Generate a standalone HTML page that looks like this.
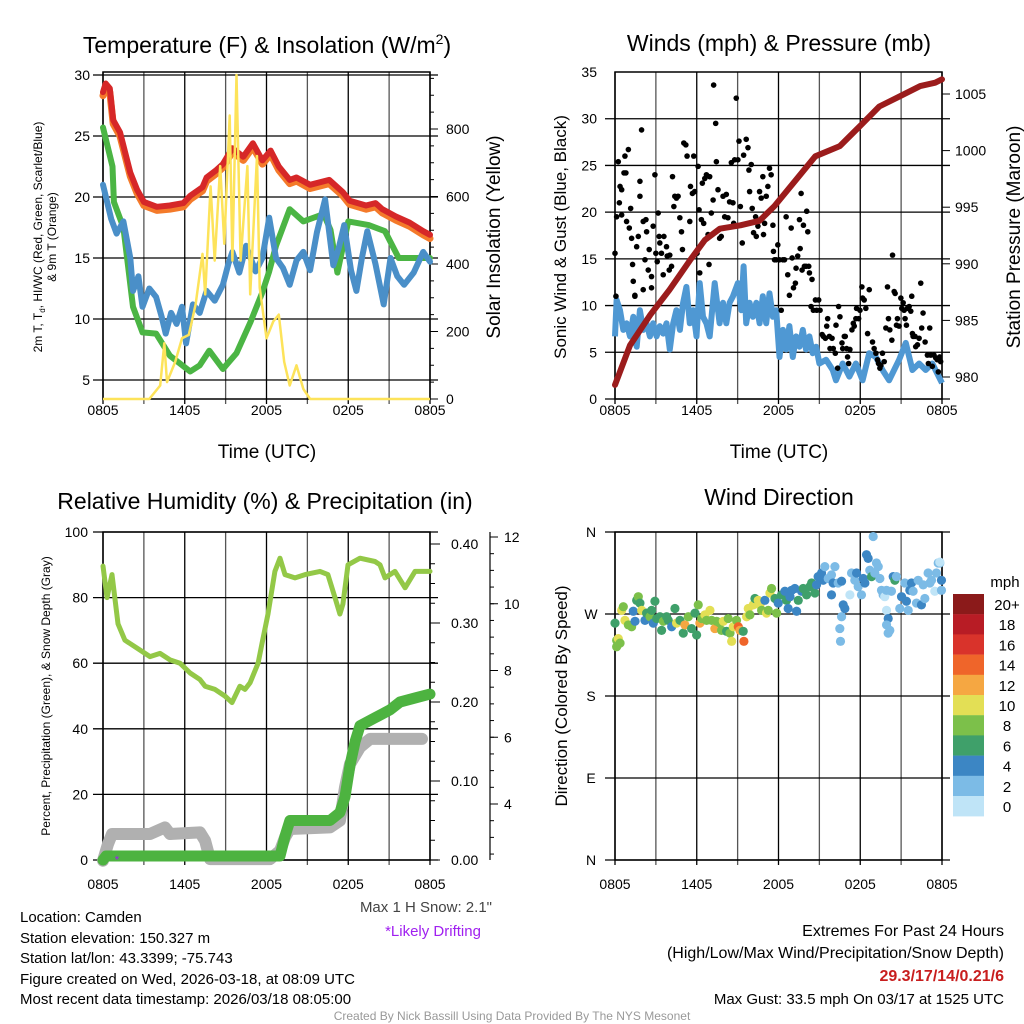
<!DOCTYPE html>
<html><head><meta charset="utf-8"><style>
html,body{margin:0;padding:0;background:#fff;}
svg{display:block;font-family:"Liberation Sans",sans-serif;}
</style></head><body>
<svg id="chart" width="1024" height="1024" viewBox="0 0 1024 1024" xmlns="http://www.w3.org/2000/svg">
<rect x="0" y="0" width="1024" height="1024" fill="#fff"/>
<text x="267" y="53" font-size="23" text-anchor="middle">Temperature (F) &amp; Insolation (W/m<tspan font-size="14" dy="-9">2</tspan><tspan dy="9">)</tspan></text>
<text x="779" y="51" font-size="23" text-anchor="middle">Winds (mph) &amp; Pressure (mb)</text>
<text x="265" y="509" font-size="23" text-anchor="middle">Relative Humidity (%) &amp; Precipitation (in)</text>
<text x="779" y="505" font-size="23" text-anchor="middle">Wind Direction</text>

<text transform="translate(42,237) rotate(-90)" font-size="12" text-anchor="middle">2m T, T<tspan font-size="8" dy="3">d</tspan><tspan dy="-3">, HI/WC (Red, Green, Scarlet/Blue)</tspan></text>
<text transform="translate(56,237) rotate(-90)" font-size="12" text-anchor="middle">&amp; 9m T (Orange)</text>
<text transform="translate(500,237) rotate(-90)" font-size="19" text-anchor="middle">Solar Insolation (Yellow)</text>
<text x="267" y="458" font-size="19" text-anchor="middle">Time (UTC)</text>
<text transform="translate(566,237) rotate(-90)" font-size="17" text-anchor="middle">Sonic Wind &amp; Gust (Blue, Black)</text>
<text transform="translate(1020,237) rotate(-90)" font-size="19" text-anchor="middle">Station Pressure (Maroon)</text>
<text x="779" y="458" font-size="19" text-anchor="middle">Time (UTC)</text>
<text transform="translate(50,696) rotate(-90)" font-size="12" text-anchor="middle">Percent, Precipitation (Green), &amp; Snow Depth (Gray)</text>
<text transform="translate(567,696) rotate(-90)" font-size="17" text-anchor="middle">Direction (Colored By Speed)</text>

<text x="492" y="912" font-size="15" text-anchor="end" fill="#444">Max 1 H Snow: 2.1"</text>
<text x="433" y="936" font-size="15" text-anchor="middle" fill="#a020f0">*Likely Drifting</text>
<g font-size="15">
<text x="20" y="922">Location: Camden</text>
<text x="20" y="943">Station elevation: 150.327 m</text>
<text x="20" y="963">Station lat/lon: 43.3399; -75.743</text>
<text x="20" y="984">Figure created on Wed, 2026-03-18, at 08:09 UTC</text>
<text x="20" y="1004">Most recent data timestamp: 2026/03/18 08:05:00</text>
</g>
<g font-size="16" text-anchor="end">
<text x="1004" y="936">Extremes For Past 24 Hours</text>
<text x="1004" y="958">(High/Low/Max Wind/Precipitation/Snow Depth)</text>
<text x="1004" y="981" fill="#c81e1e" font-weight="bold">29.3/17/14/0.21/6</text>
<text x="1004" y="1004" font-size="15">Max Gust: 33.5 mph On 03/17 at 1525 UTC</text>
</g>
<text x="512" y="1020" font-size="12" text-anchor="middle" fill="#999">Created By Nick Bassill Using Data Provided By The NYS Mesonet</text>
<g id="layer"></g>
</svg>
<script>
// ---------- data ----------
const timeTickLabels=["0805","1405","2005","0205","0805"];
const timeTickHours=[0,6,12,18,24];
// Panel 1
const tempT=[0,0.2,0.5,0.75,1.25,2,2.5,3,3.95,4.9,5.9,6.4,7.3,7.6,8.3,8.8,9.5,10.3,11,11.7,12.3,12.9,13.7,14.2,15.2,16.6,17.6,18.1,19.3,20,20.5,21.5,22.5,23.5,24];
const tempRed=[28.6,29.3,28.9,26.3,25.3,22,20.6,19.6,19.2,19.3,19.5,20.1,20.8,21.6,22.2,22.7,24,23.3,24.4,23,23.8,22.5,21.4,21.6,21,21.4,20.4,19.7,19.3,19.5,19,18.4,17.9,17.2,16.9];
const temp9m=[28.3,29.0,28.6,26.0,25.0,21.7,20.3,19.3,18.9,19.0,19.2,19.8,20.5,21.3,21.9,22.4,23.7,23.0,24.1,22.7,23.5,22.2,21.1,21.3,20.7,21.1,20.1,19.4,19.0,19.2,18.7,18.1,17.6,16.9,16.6];
const dewT=[0,0.7,0.8,1.5,2.2,2.9,3.9,4.9,6.4,7.1,7.8,8.8,9.8,10.8,11.7,12.2,12.7,13.7,14.7,16.2,16.7,17.2,18,19.5,20.7,21.7,24];
const dewV=[25.7,22.5,19.6,17.5,11,8.9,8.8,7,5.7,6.2,7.4,5.9,7.2,9.7,12.2,13.9,16,19,18,18.6,17.3,13.8,18,17.7,17.2,15,15];
const wcT=[0,0.3,0.6,1,1.5,2,2.2,2.6,2.9,3.4,3.9,4.3,4.6,5,5.4,5.8,6.1,6.6,7.1,7.6,8.2,8.8,9.2,9.5,10,10.5,11.2,11.7,12.2,12.7,13.2,13.7,14.2,14.7,15.2,15.7,16.3,16.9,17.3,17.7,18.2,18.6,19,19.4,20,20.6,21.1,21.6,22.1,22.8,23.5,24];
const wcV=[21,19.6,18.2,17,18,15,12.3,13.5,11,12.5,11.8,10.2,8.8,10.5,9.6,11,8,11.2,10.5,12.3,11.5,12.8,14.5,15.5,13.8,16,13.9,15,18.3,15,14.2,12.8,14.8,15.5,14,17.1,19.8,14.4,15.8,17.7,14,12.3,15,17.2,14.5,11.2,15,13.5,12.8,13.8,15.5,14.7];
const solT=[0,3.4,4.2,4.5,4.7,5.3,5.8,6.3,6.8,7.3,7.5,7.9,8.2,8.6,8.9,9.3,9.5,9.8,10.1,10.6,10.8,11.3,11.5,12,12.5,12.9,13.3,13.7,14.2,14.7,15.2,24];
const solV=[0,0,40,165,50,110,180,190,280,430,310,630,410,690,460,840,410,960,410,690,310,720,330,180,230,250,110,40,100,30,0,0];
// Panel 2
const presT=[0,1.1,2.6,4.0,5.5,6.6,7.7,9.2,10.6,11.7,13.2,14.7,16.5,18.0,19.4,20.9,22.4,23.5,24];
const presV=[979.3,982.8,985.5,987.7,990.3,992.1,993.1,993.4,993.8,995.1,997.3,999.5,1000.4,1002.2,1003.9,1004.8,1005.7,1006.0,1006.3];
const windT=[0,0.12,0.37,0.61,0.85,1.1,1.34,1.59,1.83,2.07,2.32,2.56,2.8,3.05,3.29,3.54,3.78,4.02,4.27,4.51,4.76,5.0,5.24,5.49,5.73,5.98,6.22,6.46,6.71,6.95,7.32,7.68,7.93,8.17,8.41,8.66,9.02,9.27,9.44,9.63,9.88,10.12,10.37,10.61,10.85,11.1,11.34,11.59,11.83,12.07,12.32,12.56,12.8,13.05,13.29,13.54,13.78,14.02,14.27,14.51,14.76,15.0,15.49,15.98,16.22,16.71,17.2,17.68,18.17,18.66,19.15,19.63,20.12,20.85,21.34,21.83,22.32,22.8,23.29,24];
const windV=[6.7,10.6,9.5,7.4,8.1,6.7,8.8,5.6,9.5,7.4,8.1,6.7,8.1,6.7,7.8,7.0,8.1,5.3,8.1,9.5,7.4,10.3,12.0,8.1,9.5,6.7,12.4,8.8,8.1,6.7,12.4,8.1,10.3,8.1,10.3,11.0,12.4,9.5,14.2,8.1,10.3,8.8,10.3,8.1,11.0,8.1,11.3,8.8,9.5,4.5,7.4,5.3,7.8,4.5,6.7,5.6,7.4,5.3,6.7,4.9,5.6,3.8,4.2,3.1,2.0,3.8,2.4,3.8,2.0,4.9,4.5,3.1,2.0,4.2,6.0,3.1,3.8,3.1,3.8,1.7];
const gustT=[0,0.07,0.12,0.24,0.32,0.37,0.49,0.49,0.66,0.73,
0.8,0.85,0.98,1.05,1.15,1.22,1.29,1.34,1.46,1.46,
1.59,1.71,1.83,1.83,1.95,2.07,2.07,2.2,2.27,2.32,
2.44,2.51,2.68,2.68,2.8,2.93,3.0,3.1,3.17,3.24,
3.29,3.41,3.54,3.59,3.78,3.83,3.98,4.02,4.15,4.22,
4.32,4.39,4.51,4.63,4.76,4.88,4.95,5.05,5.2,5.29,
5.49,5.54,5.68,5.78,5.85,6.02,6.1,6.17,6.22,6.34,
6.41,6.51,6.59,6.71,6.83,6.9,6.95,7.07,7.2,7.24,
7.39,7.44,7.56,7.68,7.8,7.93,8.05,8.17,8.29,8.41,
8.54,8.66,8.71,8.78,8.9,9.02,9.1,9.2,9.34,9.44,
9.63,9.76,9.83,9.88,10.0,10.07,10.17,10.32,10.37,10.49,
10.61,10.73,10.85,10.9,10.98,11.1,11.22,11.34,11.46,11.59,
11.63,11.71,11.83,11.95,12.07,12.2,12.32,12.44,12.56,12.68,
12.8,12.93,13.0,13.1,13.24,13.29,13.41,13.54,13.59,13.66,
13.73,13.83,13.9,14.02,14.07,14.15,14.22,14.27,14.39,14.46,
14.56,14.71,14.8,14.95,15.05,15.2,15.29,15.44,15.54,15.61,
15.73,15.78,15.93,16.02,16.17,16.22,16.34,16.41,16.51,16.66,
16.71,16.83,16.9,17.0,17.07,17.15,17.24,17.39,17.49,17.56,
17.68,17.73,17.88,17.98,18.12,18.17,18.29,18.41,18.54,18.66,
18.9,19.02,19.15,19.27,19.34,19.44,19.51,19.63,19.76,19.88,
20.0,20.07,20.17,20.32,20.37,20.49,20.56,20.66,20.73,20.85,
20.98,21.05,21.15,21.22,21.29,21.39,21.46,21.59,21.71,21.78,
21.83,21.88,22.02,22.07,22.2,22.32,22.44,22.51,22.61,22.76,
22.93,23.0,23.1,23.17,23.29,23.41,23.54,23.66,23.73,23.83,
23.9];
const gustV=[15.6,11.0,19.5,25.4,21.0,22.75,22.4,19.7,24.2,26.0,
24.2,19.0,26.7,18.3,20.4,17.2,14.4,12.6,11.0,11.1,
16.3,17.4,21.7,23.3,28.8,19.0,11.7,14.9,19.2,17.9,
13.8,16.0,13.1,11.9,18.5,24.0,15.6,14.7,19.9,17.4,
16.7,15.6,13.3,17.4,16.3,15.3,13.8,15.4,14.2,23.8,
20.6,21.7,21.5,21.7,19.4,17.9,16.0,27.4,27.2,26.0,
19.0,22.75,22.0,26.0,22.2,15.6,24.9,20.25,13.5,19.2,
23.1,18.8,23.6,24.0,17.6,14.4,23.8,19.9,21.3,33.6,
29.5,25.4,22.4,17.2,17.4,21.7,19.5,21.9,19.4,21.1,
25.3,21.0,18.8,25.6,32.2,25.6,27.6,20.6,16.7,26.1,
27.8,26.9,24.5,22.2,25.1,20.4,17.8,19.5,17.4,18.5,
22.2,21.5,23.8,17.6,18.8,21.7,22.75,24.7,24.0,18.6,
15.8,14.9,14.9,16.5,14.9,9.5,14.9,14.9,19.5,13.3,
11.1,18.3,15.1,11.9,12.4,14.0,15.3,19.2,16.1,22.0,
13.8,18.6,14.2,14.2,20.1,17.9,14.2,13.5,9.9,12.8,
9.5,10.6,9.5,10.6,9.5,6.9,6.7,6.5,7.8,8.6,
6.7,5.4,6.5,5.4,4.9,7.9,3.3,9.9,8.8,6.0,
5.4,6.7,6.7,5.4,4.5,3.8,5.3,7.4,8.1,7.8,
8.6,9.7,8.6,9.5,12.0,10.8,10.6,9.7,7.0,11.7,
6.1,5.4,4.9,4.2,3.8,3.3,3.6,4.9,4.0,7.6,
12.0,8.6,7.4,6.3,15.4,11.5,11.3,7.9,8.6,7.8,
10.8,9.7,10.3,9.5,8.6,7.9,9.7,9.9,9.4,11.0,
7.0,6.7,6.7,5.6,5.8,6.5,12.4,7.6,9.2,6.1,
4.7,3.8,7.6,4.7,3.5,4.7,4.4,4.2,2.9,4.5,
4.0];
// Panel 3
const rhT=[0,0.29,0.66,1.1,1.61,2.72,3.45,4.18,4.92,5.65,6.39,7.12,7.49,8.22,8.95,9.47,10.05,10.42,10.79,11.38,11.67,12.11,12.62,12.99,13.36,14.09,14.83,15.93,16.51,17.03,17.39,17.61,17.98,18.86,19.96,20.33,20.7,21.43,22.17,22.9,24];
const rhV=[89.6,80,87,72,67,64,62,63,61,60,57,55,53,52,50,48,53,52,54,60,66,75,88,92,87,86,87,88,87,80,75,78,90,92,91,90,86,88,83,88,88];
const precipT=[0,0.22,12.99,13.36,13.72,16.66,17.39,17.76,18.13,18.5,18.86,19.96,21.06,21.8,22.9,24];
const precipV=[0,0.005,0.005,0.03,0.05,0.05,0.06,0.08,0.12,0.15,0.17,0.18,0.19,0.2,0.205,0.21];
const snowT=[0,0.37,0.66,3.45,4.55,4.92,7.12,7.49,7.85,12.26,12.99,13.36,13.72,16.66,17.39,17.76,18.13,18.86,19.6,23.41];
const snowV=[2.3,2.8,3.1,3.1,3.3,3.1,3.15,2.9,2.35,2.35,2.6,3.0,3.25,3.3,3.5,4.5,5.2,5.7,5.95,5.95];
// Panel 4
const dirT=[0,0.12,0.24,0.12,0.37,0.49,0.61,0.73,0.98,1.22,
1.47,1.34,1.59,1.71,1.83,1.96,2.2,2.32,2.57,2.69,
2.81,2.93,3.06,3.3,3.42,3.55,3.79,3.91,4.16,4.4,
4.52,4.77,5.01,5.13,5.38,5.62,5.87,5.99,6.11,6.23,
6.36,6.6,6.72,6.97,7.09,7.33,7.46,7.7,7.82,7.95,
8.19,8.31,8.44,8.56,8.68,8.92,9.05,9.17,9.41,9.46,
9.66,9.78,9.9,10.15,10.27,10.51,10.64,10.76,11.0,11.12,
11.25,11.37,11.49,11.74,11.86,11.98,12.22,12.47,12.59,12.71,
12.84,12.96,13.2,13.33,13.45,13.69,13.81,14.06,14.3,14.43,
14.67,14.79,14.91,15.16,15.28,15.4,15.65,15.89,16.01,16.14,
15.89,16.38,16.63,16.75,16.63,16.5,16.55,16.87,17.24,17.36,
17.6,17.73,17.85,18.09,18.22,18.34,18.46,18.58,18.7,18.83,
18.95,19.07,19.19,19.32,19.44,19.56,19.68,19.8,19.93,19.93,
20.05,20.17,19.93,20.05,20.29,20.42,20.54,20.66,20.9,21.03,
21.27,21.39,21.52,21.64,21.76,21.88,22.13,22.25,22.49,22.62,
22.74,22.98,23.11,23.23,23.47,23.59,23.72,23.84,23.96,23.96,
23.84];
const dirV=[260,241,243,234,238,274,278,263,258,256,
262,273,285,289,282,274,263,271,267,274,
260,284,265,267,252,262,267,263,256,276,
260,263,249,258,267,254,271,247,280,260,
265,269,263,274,263,254,262,260,252,262,
251,265,249,240,256,263,256,252,251,240,
267,276,269,280,287,285,280,274,285,271,
274,293,298,287,271,282,291,295,285,276,
289,296,298,273,285,295,298,291,300,304,
293,302,311,315,307,322,309,313,304,322,
291,304,306,280,267,254,240,276,291,315,
307,315,300,291,309,304,335,331,318,311,
355,315,326,322,309,296,291,289,296,274,
265,252,258,249,295,311,307,311,276,289,
304,284,274,296,304,295,282,307,280,302,
287,315,304,307,295,315,326,326,307,296,
327];
const dirS=[7,9,11,9,9,11,9,11,9,9,
5,5,7,9,7,11,5,7,9,7,
5,7,7,7,7,9,7,7,5,7,
11,7,7,13,9,7,7,7,9,13,
9,11,9,11,9,13,9,9,9,11,
7,9,9,11,11,9,15,13,7,15,
11,11,9,11,7,11,11,9,5,11,
9,11,9,7,9,5,7,5,7,5,
5,5,5,5,7,5,7,7,7,7,
7,5,5,5,5,3,3,3,5,3,
5,3,5,5,3,3,3,5,1,3,
3,5,3,3,5,5,5,5,3,7,
3,3,3,3,3,3,3,1,3,1,
5,3,3,3,3,5,7,3,3,5,
3,5,3,5,5,3,3,3,5,3,
3,3,3,3,1,3,3,3,5,3,
1];
const legendLabels=["20+","18","16","14","12","10","8","6","4","2","0"];
const legendColors=["#8b1a1a","#b81c25","#d9332b","#ef652a","#f5a742","#e3df55","#7cc04a","#3fa06a","#3c86c4","#7cbbe6","#bfe4f7"];

// ---------- helpers ----------
const NS="http://www.w3.org/2000/svg";
const layer=document.getElementById('layer');
function el(tag,attrs,parent){const e=document.createElementNS(NS,tag);for(const k in attrs)e.setAttribute(k,attrs[k]);(parent||layer).appendChild(e);return e;}
function lin(d0,d1,r0,r1){return v=>r0+(v-d0)*(r1-r0)/(d1-d0);}
function pathD(xs,ys,fx,fy){const n=Math.min(xs.length,ys.length);let d='';for(let i=0;i<n;i++){d+=(i?'L':'M')+fx(xs[i]).toFixed(1)+','+fy(ys[i]).toFixed(1);}return d;}
function speedColor(s){const idx=Math.min(10,Math.max(0,10-Math.floor(s/2)));return legendColors[idx];}

function frame(name,x0,x1,y0,y1,hVals,fy,xFn,labY){
  const g=el('g',{});
  
  
  for(let h=0;h<=24;h+=3){const x=xFn(h);el('line',{x1:x,x2:x,y1:y0,y2:y1+5,stroke:(h%6===0)?'#000':'#555','stroke-width':1.3},g);}
  hVals.forEach(v=>{const y=fy(v);el('line',{x1:x0-10,x2:x1+8,y1:y,y2:y,stroke:'#000','stroke-width':1.3},g);});
  el('rect',{x:x0,y:y0,width:x1-x0,height:y1-y0,fill:'none',stroke:'#000','stroke-width':1.5},g);
  timeTickHours.forEach((h,i)=>{const t=el('text',{x:xFn(h),y:labY,'font-size':14,'text-anchor':'middle'},g);t.textContent=timeTickLabels[i];});
}
function label(x,y,txt,anchor,size,name){const t=el('text',{x:x,y:y,'font-size':size||14,'text-anchor':anchor||'end'});t.textContent=txt;return t;}

// ---------- Panel 1 ----------
(function(){
  const fx=lin(0,24,103,430), fy=lin(30,5,75,380), fs=lin(0,800,399,129);
  frame('temperature-panel',103,430,72,399,[5,10,15,20,25,30],fy,fx,415);
  [5,10,15,20,25,30].forEach(v=>label(90,fy(v)+5,String(v),'end',14,'temp-tick-label'));
  [0,200,400,600,800].forEach(v=>{label(446,fs(v)+5,String(v),'start',14,'insolation-tick-label');el('line',{x1:430,x2:438,y1:fs(v),y2:fs(v),stroke:'#000'});});
  for(let v=0;v<=950;v+=50){el('line',{x1:430,x2:434,y1:fs(v),y2:fs(v),stroke:'#000'});}
  let p;
  p=el('path',{d:pathD(tempT,temp9m,fx,fy),fill:'none',stroke:'#f47a2a','stroke-width':7,'stroke-linejoin':'round','stroke-linecap':'round'});
  
  p=el('path',{d:pathD(tempT,tempRed,fx,fy),fill:'none',stroke:'#d62728','stroke-width':6,'stroke-linejoin':'round','stroke-linecap':'round'});
  
  p=el('path',{d:pathD(dewT,dewV,fx,fy),fill:'none',stroke:'#4bb544','stroke-width':6,'stroke-linejoin':'round','stroke-linecap':'round'});
  
  p=el('path',{d:pathD(wcT,wcV,fx,fy),fill:'none',stroke:'#4a8fc8','stroke-width':6,'stroke-linejoin':'round','stroke-linecap':'round'});
  
  p=el('path',{d:pathD(solT,solV,fx,fs),fill:'none',stroke:'#fde35a','stroke-width':2.5,'stroke-linejoin':'round'});
  
})();

// ---------- Panel 2 ----------
(function(){
  const fx=lin(0,24,615,942), fy=lin(0,35,399,72), fp=lin(980,1005,377,94);
  frame('winds-panel',615,942,72,399,[0,5,10,15,20,25,30],fy,fx,415);
  [0,5,10,15,20,25,30,35].forEach(v=>label(597,fy(v)+5,String(v),'end',14,'wind-tick-label'));
  [980,985,990,995,1000,1005].forEach(v=>{label(955,fp(v)+5,String(v),'start',14,'pressure-tick-label');el('line',{x1:942,x2:950,y1:fp(v),y2:fp(v),stroke:'#000'});});
  let p=el('path',{d:pathD(windT,windV,fx,fy),fill:'none',stroke:'#4f98d3','stroke-width':6,'stroke-linejoin':'round'});
  
  const gg=el('g',{});
  
  const n=Math.min(gustT.length,gustV.length);
  for(let i=0;i<n;i++){const c=el('circle',{cx:fx(gustT[i]),cy:fy(gustV[i]),r:2.8,fill:'#000'},gg);
    
    }
  p=el('path',{d:pathD(presT,presV,fx,fp),fill:'none',stroke:'#9b1c1c','stroke-width':6,'stroke-linejoin':'round','stroke-linecap':'round'});
  
})();

// ---------- Panel 3 ----------
(function(){
  const fx=lin(0,24,103,430), fy=lin(0,100,860,532), fp=lin(0,0.4,860,544), fsn=lin(4,12,804,537);
  frame('humidity-panel',103,430,532,860,[0,20,40,60,80,100],fy,fx,889);
  [0,20,40,60,80,100].forEach(v=>label(88,fy(v)+5,String(v),'end',14,'humidity-tick-label'));
  [0,0.1,0.2,0.3,0.4].forEach(v=>{label(451,fp(v)+5,v.toFixed(2),'start',14,'precip-tick-label');el('line',{x1:430,x2:440,y1:fp(v),y2:fp(v),stroke:'#000'});});
  for(let v=0;v<=0.41;v+=0.025){el('line',{x1:430,x2:435,y1:fp(v),y2:fp(v),stroke:'#000'});}
  el('line',{x1:490,x2:490,y1:532,y2:860,stroke:'#000','stroke-width':1.2});
  [4,6,8,10,12].forEach(v=>{label(504,fsn(v)+5,String(v),'start',14,'snow-tick-label');el('line',{x1:490,x2:498,y1:fsn(v),y2:fsn(v),stroke:'#000'});});
  for(let v=2.5;v<=12;v+=0.5){el('line',{x1:490,x2:494,y1:fsn(v),y2:fsn(v),stroke:'#000'});}
  let p=el('path',{d:pathD(rhT,rhV,fx,fy),fill:'none',stroke:'#93c847','stroke-width':5,'stroke-linejoin':'round','stroke-linecap':'round'});
  
  p=el('path',{d:pathD(snowT,snowV,fx,fsn),fill:'none',stroke:'#b0b0b0','stroke-width':12,'stroke-linejoin':'round','stroke-linecap':'round'});
  
  p=el('path',{d:pathD(precipT,precipV,fx,fp),fill:'none',stroke:'#4db340','stroke-width':11,'stroke-linejoin':'round','stroke-linecap':'round'});
  
  const m=el('text',{x:fx(0.85),y:864,'font-size':12,fill:'#a020f0'});m.textContent='*';
  
})();

// ---------- Panel 4 ----------
(function(){
  const fx=lin(0,24,615,942), fy=lin(0,360,860,532);
  frame('direction-panel',615,942,532,860,[0,90,180,270,360],fy,fx,889);
  [['N',360],['W',270],['S',180],['E',90],['N',0]].forEach(a=>label(591,fy(a[1])+5,a[0],'middle',14,'direction-tick-label'));
  const g=el('g',{});
  
  const n=Math.min(dirT.length,dirV.length,dirS.length);
  for(let i=0;i<n;i++){const c=el('circle',{cx:fx(dirT[i]),cy:fy(dirV[i]),r:4.6,fill:speedColor(dirS[i])},g);
    
    }
  const lg=el('g',{});
  
  const t=el('text',{x:1005,y:587,'font-size':15,'text-anchor':'middle'},lg);t.textContent='mph';
  legendLabels.forEach((lab,i)=>{
    el('rect',{x:953,y:594+i*20.2,width:31,height:20.4,fill:legendColors[i]},lg);
    const tx=el('text',{x:1007,y:594+i*20.2+16,'font-size':15,'text-anchor':'middle'},lg);tx.textContent=lab;
  });
})();
</script>
</body></html>
